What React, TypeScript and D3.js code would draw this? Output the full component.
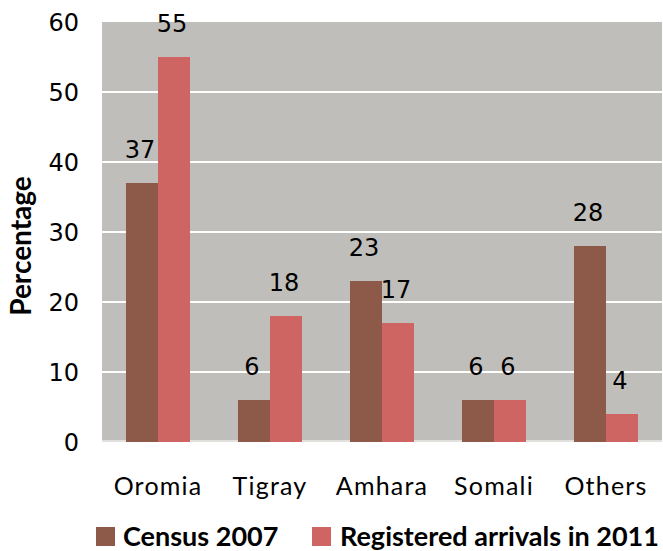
import React from "react";
import * as d3 from "d3";

const categories = ["Oromia", "Tigray", "Amhara", "Somali", "Others"];
const census2007 = [37, 6, 23, 6, 28];
const arrivals2011 = [55, 18, 17, 6, 4];
const seriesNames = ["Census 2007", "Registered arrivals in 2011"];
const yTicks = [0, 10, 20, 30, 40, 50, 60];

const colors = ["#8D5A4A", "#CF6563"];
const W = 663, H = 551;
const left = 102, right = 662, top = 22, bottom = 442;

export default function App() {
  const x = d3.scaleBand<string>().domain(categories).range([left, right]).paddingInner(48 / 112).paddingOuter(24 / 112);
  const y = d3.scaleLinear().domain([0, 60]).range([bottom, top]);
  const bw = x.bandwidth() / 2;
  const series = [census2007, arrivals2011];
  const num = "DejaVu Sans, sans-serif";
  const txt = "Lato, sans-serif";
  return (
    <svg width={W} height={H} style={{ position: "absolute", left: 0, top: 0 }}>
      <rect x={0} y={0} width={W} height={H} fill="#fff" />
      <rect x={left} y={y(60)} width={right - left} height={y(0) - y(60) - 2} fill="#C0BEBA" />
      {yTicks.filter(t => t > 0 && t < 60).map(t => (
        <line key={t} x1={left} x2={right} y1={y(t)} y2={y(t)} stroke="#fff" strokeWidth={2} />
      ))}
      <line x1={left} x2={right} y1={y(0) - 1} y2={y(0) - 1} stroke="#E2E0DC" strokeWidth={2} />
      {yTicks.map(t => (
        <text key={t} x={79} y={y(t)} dy="0.36em" textAnchor="end" fontFamily={num} fontSize={24} fill="#000">{t}</text>
      ))}
      {series.map((vals, si) => vals.map((v, i) => {
        const bx = (x(categories[i]) as number) + si * bw;
        return (
          <g key={`${si}-${i}`}>
            <rect x={bx} y={y(v)} width={bw} height={y(0) - y(v)} fill={colors[si]} />
            <text x={bx + bw / 2 - 2} y={y(v) - 25} textAnchor="middle" fontFamily={num} fontSize={24} fill="#000">{v}</text>
          </g>
        );
      }))}
      {categories.map(c => (
        <text key={c} x={(x(c) as number) + x.bandwidth() / 2} y={495} textAnchor="middle" fontFamily={txt} fontSize={25} letterSpacing={1.2} fill="#000">{c}</text>
      ))}
      <text transform={`translate(31,246) rotate(-90)`} textAnchor="middle" fontFamily={txt} fontWeight="bold" fontSize={28} fill="#000">Percentage</text>
      <rect x={96} y={527} width={19} height={19} fill={colors[0]} />
      <text x={123} y={546} fontFamily={txt} fontWeight="bold" fontSize={27} fill="#000">{seriesNames[0]}</text>
      <rect x={312} y={527} width={19} height={19} fill={colors[1]} />
      <text x={340} y={546} fontFamily={txt} fontWeight="bold" fontSize={27} fill="#000">{seriesNames[1]}</text>
    </svg>
  );
}
